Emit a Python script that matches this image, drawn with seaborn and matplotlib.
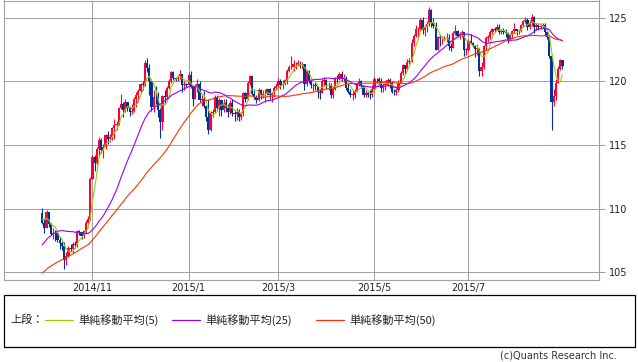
import numpy as np
import pandas as pd
import matplotlib
matplotlib.use("Agg")
import matplotlib.pyplot as plt
import seaborn as sns
from matplotlib.lines import Line2D
from matplotlib.patches import Rectangle

sns.set_style("white")
plt.rcParams['font.family'] = ['DejaVu Sans', 'Noto Sans CJK JP']

# 2014/7/24 - 2014/9/30 終値 (移動平均の計算用)
warmup_close = [
    101.80, 101.80, 101.85, 102.10, 102.95, 102.80,
    102.60, 102.60, 102.55, 102.10, 102.10, 102.05, 102.45, 102.25, 102.50, 102.45, 102.35,
    102.60, 103.20, 103.75, 103.85, 103.85, 104.05, 104.05, 103.90, 103.70, 104.05,
    104.30, 105.05, 104.80, 105.40, 105.05, 106.20, 106.20, 106.80, 107.10, 107.35, 107.15,
    107.20, 108.40, 108.70, 109.00, 108.75, 108.80, 108.95, 108.70, 109.25, 109.45, 109.65,
]

# 2014/10/1 - 2015/8/31 (平日) 終値・高値・安値
close_px = [
    # 10月
    108.88, 108.49, 109.76, 108.83, 108.05, 108.12, 108.06, 107.57, 107.29, 107.06, 105.94, 106.32,
    106.88, 106.85, 107.21, 107.14, 108.22, 108.15, 107.83, 108.22, 108.91, 109.22, 112.32,
    # 11月
    114.05, 113.56, 114.65, 115.41, 114.58, 114.88, 115.80, 115.50, 115.65, 116.30, 116.60, 116.60,
    117.90, 118.20, 117.75, 118.40, 117.90, 117.60, 117.70, 118.65,
    # 12月
    118.95, 119.25, 119.80, 119.70, 121.45, 121.05, 120.05, 117.95, 118.80, 118.75, 117.75, 116.80,
    118.85, 118.75, 119.50, 120.00, 120.75, 120.30, 120.20, 120.35, 120.55, 119.75, 119.80,
    # 1月
    119.70, 120.50, 119.60, 118.60, 119.60, 119.80, 118.55, 118.65, 118.05, 117.20, 116.20, 117.55,
    117.60, 118.80, 117.90, 118.50, 117.75, 118.30, 117.90, 117.60, 118.30, 117.50,
    # 2月
    117.40, 117.60, 117.20, 117.50, 119.10, 118.60, 119.90, 120.40, 119.00, 118.75, 118.50, 119.30,
    118.90, 119.00, 119.00, 119.40, 118.90, 119.10, 119.50, 119.60,
    # 3月
    120.05, 119.75, 119.80, 120.10, 120.80, 121.10, 121.10, 121.35, 121.40, 121.40, 121.30, 121.40,
    119.80, 120.80, 120.00, 119.70, 119.70, 119.60, 119.20, 119.10, 120.05, 120.10,
    # 4月
    119.70, 119.75, 118.95, 119.40, 120.20, 120.15, 120.60, 120.20, 120.30, 119.50, 119.20, 118.95,
    118.95, 119.20, 119.80, 120.05, 119.60, 118.95, 119.05, 118.95, 118.90, 119.40,
    # 5月
    120.20, 120.15, 120.05, 119.50, 119.75, 119.75, 120.10, 119.90, 119.20, 119.15, 119.35, 119.90,
    120.65, 121.30, 120.95, 121.50, 121.60, 123.00, 123.60, 124.10, 124.10,
    # 6月
    124.80, 124.00, 124.25, 124.50, 125.60, 124.55, 124.35, 122.45, 123.45, 123.40, 123.40, 123.40,
    123.40, 122.80, 122.65, 123.80, 123.95, 123.60, 123.70, 123.85, 122.50, 122.50,
    # 7月
    123.15, 123.00, 122.80, 122.55, 122.55, 120.85, 121.10, 122.75, 123.40, 123.50, 123.90, 124.10,
    124.05, 124.30, 123.85, 123.95, 123.85, 123.80, 123.25, 123.65, 123.95, 124.10, 123.95,
    # 8月
    123.95, 124.40, 124.75, 124.80, 124.25, 124.60, 125.05, 124.30, 124.40, 124.30, 124.35, 124.40,
    123.85, 123.45, 122.00, 118.40, 118.85, 119.90, 120.95, 121.70, 121.20,
]
high_px = [
    110.09, 109.27, 109.91, 109.72, 108.90, 108.45, 108.35, 108.20, 107.78, 107.45, 107.37, 106.60,
    107.10, 107.20, 107.40, 107.45, 108.35, 108.35, 108.20, 108.30, 109.10, 109.45, 112.47,
    114.20, 114.20, 114.85, 115.60, 115.55, 115.10, 115.90, 116.10, 115.90, 116.40, 117.05, 116.90,
    118.00, 118.98, 118.40, 118.60, 118.40, 118.05, 118.20, 118.75,
    119.15, 119.40, 119.90, 120.00, 121.69, 121.85, 121.40, 120.20, 119.30, 119.60, 119.15, 117.90,
    118.95, 119.35, 119.60, 120.15, 120.80, 120.80, 120.35, 120.50, 120.90, 120.40, 120.00,
    119.90, 120.75, 120.85, 119.70, 119.80, 120.20, 120.05, 118.90, 119.25, 118.10, 118.60, 117.70,
    117.80, 118.95, 118.90, 118.70, 118.55, 118.60, 118.60, 118.20, 118.50, 118.65,
    117.70, 117.90, 117.80, 117.60, 119.20, 119.20, 120.00, 120.50, 120.45, 119.30, 118.90, 119.45,
    119.40, 119.35, 119.40, 119.50, 119.50, 119.20, 119.60, 119.85,
    120.25, 120.20, 120.10, 120.20, 120.95, 121.25, 122.03, 121.70, 121.55, 121.65, 121.60, 121.50,
    121.40, 120.90, 120.90, 120.10, 119.90, 119.95, 119.65, 119.40, 120.20, 120.35,
    120.20, 119.95, 119.90, 119.55, 120.35, 120.50, 120.70, 120.85, 120.55, 120.40, 119.85, 119.40,
    119.30, 119.40, 119.90, 120.25, 120.10, 119.65, 119.30, 119.20, 119.30, 119.75,
    120.35, 120.30, 120.35, 120.25, 119.85, 120.00, 120.30, 120.25, 120.00, 119.40, 119.50, 120.10,
    120.80, 121.40, 121.30, 121.75, 121.80, 123.30, 123.75, 124.45, 124.30,
    124.95, 125.05, 124.40, 124.75, 125.86, 125.70, 124.95, 124.65, 123.60, 123.70, 123.55, 123.60,
    123.80, 123.70, 123.00, 123.95, 124.45, 124.00, 123.90, 124.00, 123.90, 122.60,
    123.30, 123.70, 123.10, 122.85, 122.90, 122.65, 121.50, 122.85, 123.60, 123.65, 124.05, 124.20,
    124.25, 124.50, 124.50, 124.15, 124.20, 124.10, 123.85, 123.75, 124.05, 124.60, 124.15,
    124.10, 124.50, 124.85, 125.05, 125.00, 124.80, 125.28, 125.10, 124.60, 124.50, 124.55, 124.55,
    124.55, 123.95, 123.45, 122.05, 119.40, 120.20, 121.20, 121.75, 121.70,
]
low_px = [
    108.83, 108.10, 108.60, 108.60, 107.95, 107.60, 107.50, 107.35, 106.80, 106.76, 105.23, 105.60,
    106.20, 106.60, 106.50, 106.90, 107.00, 107.90, 107.60, 107.70, 108.10, 108.80, 109.15,
    112.30, 112.95, 113.40, 114.10, 114.35, 114.00, 114.70, 115.10, 115.20, 115.40, 115.45, 116.20,
    116.60, 117.80, 117.20, 117.60, 117.70, 117.25, 117.40, 117.60,
    117.95, 118.40, 119.10, 119.30, 119.65, 120.70, 118.90, 117.70, 117.60, 118.20, 117.20, 115.57,
    116.20, 118.20, 118.50, 119.40, 119.90, 120.10, 120.05, 120.00, 120.20, 119.20, 119.30,
    119.55, 119.70, 119.45, 118.05, 118.60, 119.20, 118.40, 118.10, 117.90, 116.90, 115.85, 116.10,
    117.20, 117.50, 117.70, 117.25, 117.30, 117.60, 117.60, 117.20, 117.40, 117.30,
    116.90, 117.00, 116.90, 117.00, 117.30, 118.40, 118.50, 119.70, 118.90, 118.60, 118.30, 118.45,
    118.60, 118.70, 118.40, 118.90, 118.60, 118.35, 118.80, 119.30,
    119.50, 119.40, 119.40, 119.70, 119.80, 120.75, 120.95, 120.85, 120.95, 121.20, 121.05, 121.00,
    119.30, 119.60, 119.85, 119.50, 119.25, 119.35, 118.70, 118.60, 119.10, 119.65,
    119.40, 119.30, 118.70, 118.70, 119.30, 119.85, 120.10, 120.00, 119.95, 119.30, 119.10, 118.80,
    118.55, 118.70, 119.15, 119.60, 119.50, 118.80, 118.75, 118.80, 118.60, 118.75,
    119.20, 119.90, 119.75, 119.20, 119.20, 119.35, 119.65, 119.50, 119.10, 118.90, 118.90, 119.20,
    119.85, 120.50, 120.60, 120.90, 121.40, 121.50, 122.80, 123.50, 123.35,
    123.95, 123.75, 123.60, 123.90, 124.35, 124.30, 124.20, 122.45, 122.50, 122.75, 122.90, 123.15,
    123.10, 122.50, 122.40, 122.75, 123.65, 123.45, 123.30, 123.50, 122.00, 122.10,
    122.35, 122.90, 122.70, 121.95, 122.10, 120.40, 120.45, 121.00, 122.50, 123.10, 123.30, 123.75,
    123.85, 124.00, 123.75, 123.70, 123.75, 123.45, 123.00, 123.15, 123.40, 123.80, 123.65,
    123.70, 123.85, 124.30, 124.60, 124.05, 124.15, 124.35, 123.80, 124.00, 124.00, 124.10, 124.20,
    123.55, 123.30, 121.85, 116.15, 118.10, 118.55, 119.90, 120.90, 120.95,
]

tick_dates = ["2014-11-03", "2015-01-02", "2015-03-02", "2015-05-01", "2015-07-01"]
tick_labels = ["2014/11", "2015/1", "2015/3", "2015/5", "2015/7"]
y_ticks = [105, 110, 115, 120, 125]

ma_windows = [5, 25, 50]
ma_labels = ["単純移動平均(5)", "単純移動平均(25)", "単純移動平均(50)"]
ma_colors = ["#99cc00", "#9900ff", "#ff3300"]

# データフレーム
dates = pd.bdate_range("2014-10-01", "2015-08-31")
df = pd.DataFrame({"date": dates, "close": close_px, "high": high_px, "low": low_px})
df["open"] = [warmup_close[-1]] + close_px[:-1]
df["i"] = np.arange(len(df))
full = pd.Series(warmup_close + close_px)
for w in ma_windows:
    df[f"ma{w}"] = full.rolling(w).mean().iloc[len(warmup_close):].values

# グラフ
fig = plt.figure(figsize=(6.38, 3.62), dpi=100)
W, H = 638, 362
ax = fig.add_axes([3.5 / W, 82 / H, 595 / W, 279.5 / H])

up = df["close"] >= df["open"]
colors = np.where(up, "#ff0033", "#003399")
body_lo = df[["open", "close"]].min(axis=1)
body_hi = df[["open", "close"]].max(axis=1)
ax.vlines(df["i"], np.minimum(df["low"], body_lo), np.maximum(df["high"], body_hi),
          colors=colors, lw=0.8, zorder=2)
ax.bar(df["i"], (body_hi - body_lo).clip(lower=0.04), bottom=body_lo, width=1.0,
       color=colors, linewidth=0, zorder=2)

for w, c in zip(ma_windows, ma_colors):
    sns.lineplot(data=df, x="i", y=f"ma{w}", color=c, lw=0.8, ax=ax, legend=False, zorder=3)

tick_pos = [df.index[df["date"] == pd.Timestamp(d)][0] for d in tick_dates]
ax.set_xlim(-17.7, 254.5)
ax.set_ylim(104.4, 126.35)
ax.set_xticks(tick_pos)
ax.set_xticklabels(tick_labels, fontsize=7)
ax.set_yticks(y_ticks)
ax.set_yticklabels([str(v) for v in y_ticks], fontsize=7)
ax.yaxis.tick_right()
ax.tick_params(axis="y", length=4.5, width=0.7, color="#999999", pad=3, labelcolor="#222222")
ax.tick_params(axis="x", length=0, pad=2.5, labelcolor="#222222")
ax.grid(True, color="#a0a0a0", lw=0.7, zorder=0)
ax.set_axisbelow(True)
for s in ax.spines.values():
    s.set_color("#a0a0a0")
    s.set_linewidth(0.8)
ax.set_xlabel("")
ax.set_ylabel("")

# 凡例ボックス
fx = lambda px: px / W
fy = lambda py: 1 - py / H
fig.add_artist(Rectangle((fx(3.5), fy(346.5)), fx(631), 51.5 / H, transform=fig.transFigure,
                         fill=False, ec="black", lw=0.9))
jp = ['Noto Sans CJK JP', 'DejaVu Sans']
fig.text(fx(10), fy(320), "上段：", fontsize=8, family=jp, va="center", ha="left", color="#222222")
line_x = [45, 172, 316]
for lx, c, lab in zip(line_x, ma_colors, ma_labels):
    fig.add_artist(Line2D([fx(lx), fx(lx + 28)], [fy(320), fy(320)], color=c, lw=0.9,
                          transform=fig.transFigure))
    fig.text(fx(lx + 33), fy(320), lab, fontsize=8, family=jp, va="center", ha="left",
             color="#222222")

fig.text(fx(617), fy(356), "(c)Quants Research Inc.", fontsize=7, ha="right", va="center",
         color="#333333")

fig.savefig("out.png", dpi=100)
